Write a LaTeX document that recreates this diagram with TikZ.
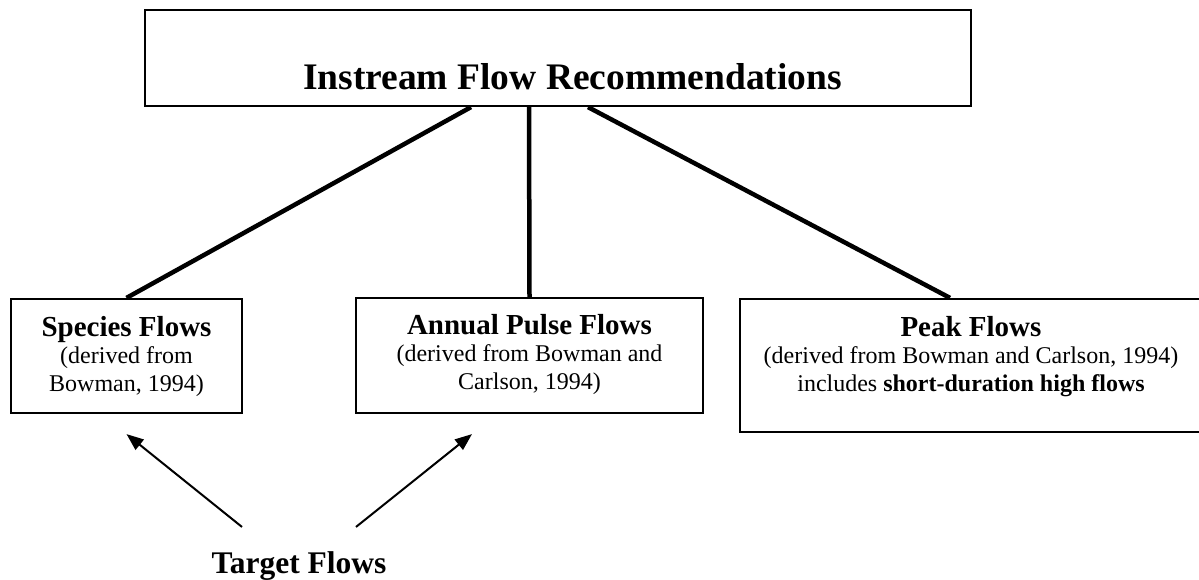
\documentclass[tikz,border=0pt]{standalone}
\usepackage{fontspec}
\setmainfont{Liberation Serif}
\usetikzlibrary{arrows.meta}
\tikzset{
  boxnode/.style={draw=black, line width=2.2pt, inner sep=0pt},
  txtnode/.style={inner sep=0pt, align=center, font=\fontsize{24}{27.5}\selectfont},
  branch/.style={line width=4.5pt},
  pointer/.style={line width=2pt, -{Triangle[length=17pt,width=13pt]}},
}
\newcommand{\hd}[1]{{\fontsize{29}{27.5}\selectfont\bfseries #1}}
\begin{document}
\begin{tikzpicture}[x=1pt,y=-1pt]
\useasboundingbox (0,0) rectangle (1199,579);
% boxes
\node[boxnode, minimum width=826pt, minimum height=96pt] (top) at (558,58) {};
\node[boxnode, minimum width=231pt, minimum height=114pt] (species) at (126.5,356) {};
\node[boxnode, minimum width=347pt, minimum height=115pt] (annual) at (529.5,355.5) {};
\node[boxnode, minimum width=462pt, minimum height=133pt] (peak) at (971,365.5) {};
% texts
\node[inner sep=0pt, anchor=base, font=\fontsize{37.5}{40}\selectfont\bfseries] (title) at (572.5,89) {Instream Flow Recommendations};
\node[txtnode, anchor=north] (speciestext) at ([yshift=-18pt]species.north) {\hd{Species Flows}\\(derived from\\Bowman, 1994)};
\node[txtnode, anchor=north] (annualtext) at ([yshift=-17pt]annual.north) {\hd{Annual Pulse Flows}\\(derived from Bowman and\\Carlson, 1994)};
\node[txtnode, anchor=north] (peaktext) at ([yshift=-18pt]peak.north) {\hd{Peak Flows}\\(derived from Bowman and Carlson, 1994)\\includes \textbf{short-duration high flows}};
\node[inner sep=0pt, anchor=base, font=\fontsize{31.5}{34}\selectfont\bfseries] (target) at (299,573) {Target Flows};
% branches
\draw[branch] ([xshift=-87pt]top.south) -- (species.north);
\draw[branch] ([xshift=-29pt]top.south) -- (annual.north);
\draw[branch] ([xshift=30pt]top.south) -- ([xshift=-21pt]peak.north);
% arrows
\draw[pointer] ([xshift=-57pt,yshift=24pt]target.north) -- ([yshift=-20pt]species.south);
\draw[pointer] ([xshift=57pt,yshift=24pt]target.north) -- ([xshift=-57.5pt,yshift=-20pt]annual.south);
\end{tikzpicture}
\end{document}
